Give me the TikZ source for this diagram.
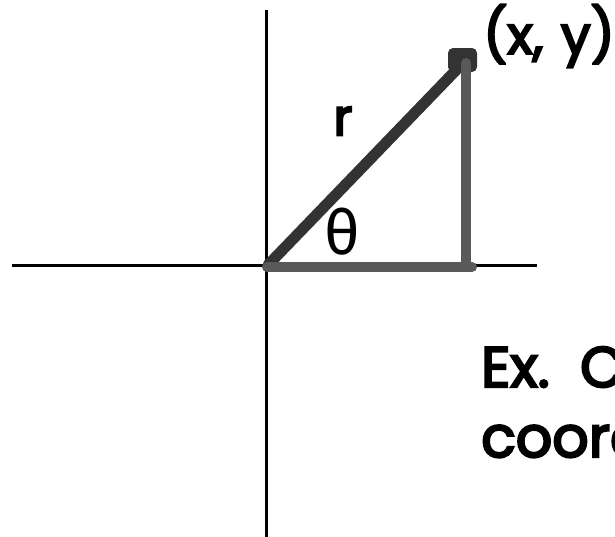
\documentclass[tikz,border=0pt]{standalone}
\usepackage{fontspec}
\newfontfamily\labelfont{Poppins}[FakeBold=4]
\newfontfamily\greekfont{Fira Sans}
\usetikzlibrary{positioning}
\definecolor{hypgray}{gray}{0.2}
\definecolor{leggray}{gray}{0.35}
\tikzstyle{axis}=[draw=black, line width=3pt]
\tikzstyle{leg}=[draw=leggray, line width=10pt, line cap=round]
\tikzstyle{hyp}=[draw=hypgray, line width=11pt, line cap=round]
\tikzstyle{lbl}=[inner sep=0pt, font=\labelfont]

\begin{document}
\begin{tikzpicture}[x=1pt, y=-1pt]
    \path[use as bounding box, clip] (0,0) rectangle (615,536);
    % axes
    \coordinate (ytop) at (266,10);
    \coordinate (ybot) at (266,540);
    \coordinate (xleft) at (12,265.5);
    \coordinate (xright) at (537,265.5);
    \draw[axis] (ytop) -- (ybot);
    \draw[axis] (xleft) -- (xright);
    % triangle
    \coordinate (O) at (268,265);
    \coordinate (P) at (462,64);
    \coordinate (Pt) at (466,63);
    \coordinate (Q) at (466,267);
    \coordinate (Qe) at (472,267);
    \coordinate (Os) at (267,267);
    \draw[hyp] (O) -- (P);
    \fill[hypgray, rounded corners=5pt] (448,48) rectangle (477,72);
    \draw[leg] (Pt) -- (Q);
    \draw[leg] (Os) -- (Qe);
    % labels
    \node[lbl, font=\labelfont\fontsize{51}{60}\selectfont] (r) at (343,121) {r};
    \node[inner sep=0pt, font=\greekfont\fontsize{62}{70}\selectfont] (theta) at (342,232) {θ};
    \node[lbl, font=\labelfont\fontsize{53}{64}\selectfont] (xy) at (549,36) {(x,\,\,y)};
    \node[lbl, font=\labelfont\fontsize{57}{70}\selectfont, anchor=base west] (ex) at (481,387) {Ex.\ \ C};
    \node[lbl, font=\labelfont\fontsize{57}{70}\selectfont, anchor=base west] (coord) at ([yshift=-70pt]ex.base west) {coord};
\end{tikzpicture}
\end{document}
